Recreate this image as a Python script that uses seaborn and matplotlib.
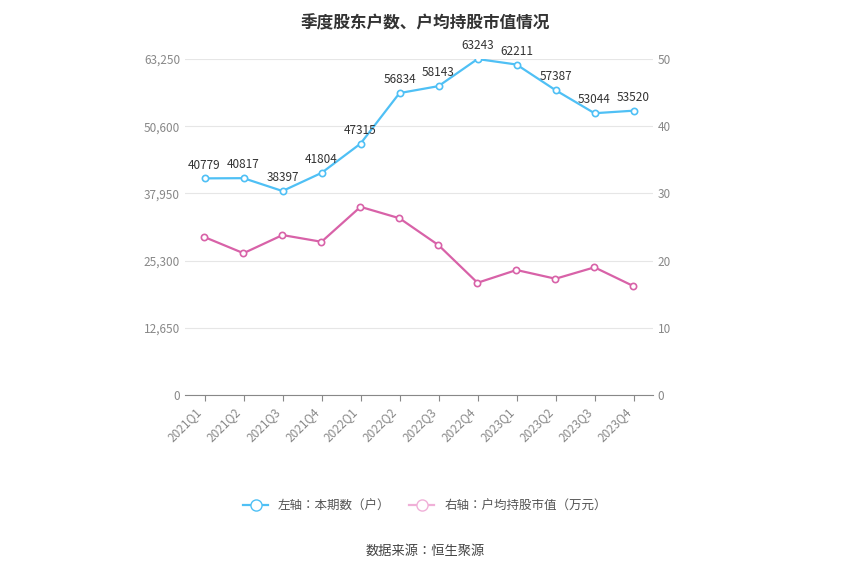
import matplotlib
matplotlib.use("Agg")
import matplotlib.pyplot as plt
import seaborn as sns
import pandas as pd
from matplotlib.lines import Line2D

plt.rcParams["font.family"] = "sans-serif"
plt.rcParams["font.sans-serif"] = ["Noto Sans CJK SC", "Noto Sans CJK JP", "DejaVu Sans"]

quarters = ["2021Q1", "2021Q2", "2021Q3", "2021Q4", "2022Q1", "2022Q2",
            "2022Q3", "2022Q4", "2023Q1", "2023Q2", "2023Q3", "2023Q4"]
holders = [40779, 40817, 38397, 41804, 47315, 56834, 58143, 63243, 62211, 57387, 53044, 53520]
avg_value = [23.5, 21.1, 23.8, 22.8, 28.0, 26.3, 22.3, 16.7, 18.6, 17.3, 19.0, 16.2]
left_ticks = [0, 12650, 25300, 37950, 50600, 63250]
right_ticks = [0, 10, 20, 30, 40, 50]

df = pd.DataFrame({"q": quarters, "holders": holders, "avg": avg_value})
blue = "#4fc0f5"
pink = "#d862a8"

fig = plt.figure(figsize=(8.5, 5.75), dpi=100)
ax = fig.add_axes([185 / 850, 180 / 575, 468 / 850, 336 / 575])
ax2 = ax.twinx()

sns.lineplot(data=df, x="q", y="holders", ax=ax, color=blue, linewidth=1.6,
             marker="o", markersize=4.5, markerfacecolor="white", markeredgecolor=blue,
             markeredgewidth=1.2, sort=False)
sns.lineplot(data=df, x="q", y="avg", ax=ax2, color=pink, linewidth=1.6,
             marker="o", markersize=4.5, markerfacecolor="white", markeredgecolor=pink,
             markeredgewidth=1.2, sort=False)

for i, v in enumerate(holders):
    ax.annotate(str(v), (i, v), textcoords="offset points", xytext=(0, 7),
                ha="center", fontsize=8.5, color="#333333")

ax.set_xlim(-0.5, len(quarters) - 0.5)
ax.set_ylim(0, 63250)
ax2.set_ylim(0, 50)
ax.set_yticks(left_ticks)
ax.set_yticklabels([f"{t:,}" for t in left_ticks])
ax2.set_yticks(right_ticks)
ax.set_xticks(range(len(quarters)))
ax.set_xticklabels(quarters, rotation=45, ha="right")
ax.grid(axis="y", color="#e6e6e6", linewidth=0.8)
ax.set_axisbelow(True)
for a in (ax, ax2):
    a.set_xlabel("")
    a.set_ylabel("")
    for s in a.spines.values():
        s.set_visible(False)
    a.tick_params(colors="#888888", labelsize=8.5, length=0)
ax.spines["bottom"].set_visible(True)
ax.spines["bottom"].set_color("#888888")
ax.tick_params(axis="x", length=4, color="#888888")

fig.text(0.5, 0.975, "季度股东户数、户均持股市值情况", ha="center", va="top",
         fontsize=12, fontweight="bold", color="#333333")

handles = [Line2D([], [], color=blue, marker="o", markerfacecolor="white", markersize=8, linewidth=1.6),
           Line2D([], [], color="#f0b0d8", marker="o", markerfacecolor="white", markersize=8, linewidth=1.6)]
fig.legend(handles, ["左轴：本期数（户）", "右轴：户均持股市值（万元）"], loc="center",
           bbox_to_anchor=(0.5, 0.12), ncol=2, frameon=False, fontsize=9,
           labelcolor="#555555", handlelength=2, columnspacing=1.5)
fig.text(0.5, 0.035, "数据来源：恒生聚源", ha="center", fontsize=9.5, color="#444444")

fig.savefig("out.png", dpi=100)
